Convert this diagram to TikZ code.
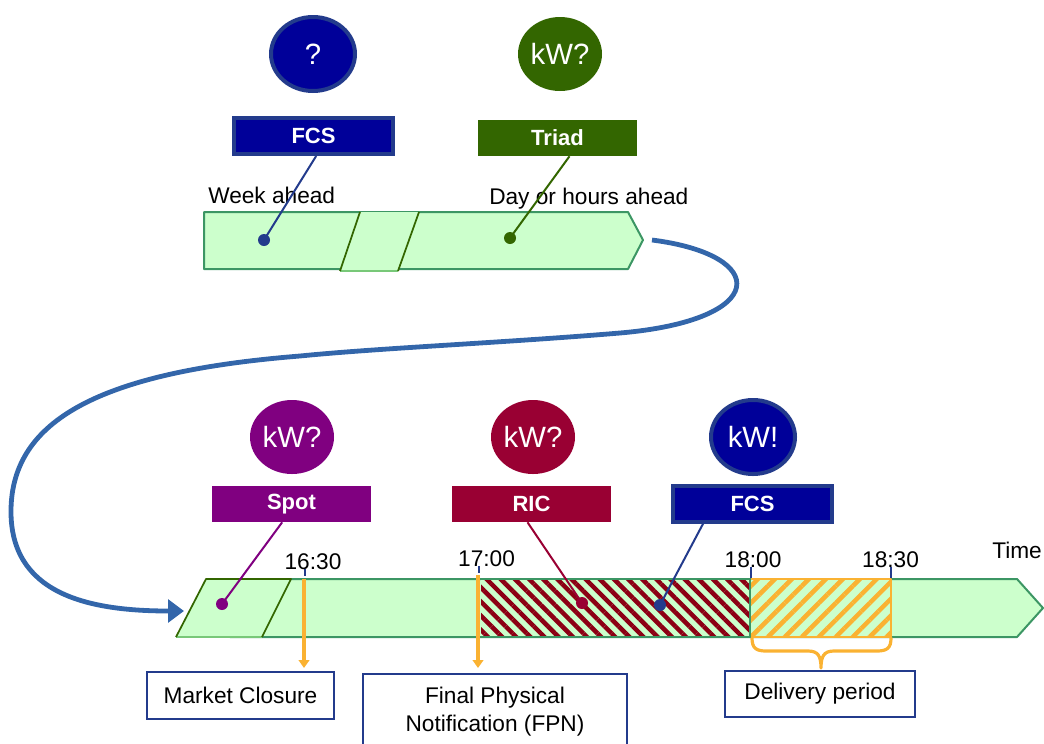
\documentclass[tikz,border=0pt]{standalone}
\usepackage{fontspec}
\setmainfont{Liberation Sans}
\usetikzlibrary{arrows.meta,patterns.meta,shapes.geometric}
\definecolor{bandfill}{RGB}{204,255,204}
\definecolor{bandline}{RGB}{60,150,100}
\definecolor{lgreen}{RGB}{120,200,120}
\definecolor{dgreen}{RGB}{51,102,0}
\definecolor{navy}{RGB}{0,0,153}
\definecolor{navyb}{RGB}{35,59,140}
\definecolor{purp}{RGB}{128,0,128}
\definecolor{crim}{RGB}{153,0,51}
\definecolor{hatchred}{RGB}{140,0,20}
\definecolor{orng}{RGB}{250,178,50}
\definecolor{conn}{RGB}{51,102,170}
\begin{document}
\begin{tikzpicture}[x=0.75pt,y=-0.75pt,
  bubble/.style={ellipse, minimum width=63pt, minimum height=55.5pt, inner sep=0pt, text=white, font=\fontsize{22}{24}\selectfont},
  tag/.style={rectangle, minimum width=119.25pt, minimum height=27pt, inner sep=0pt, text=white, font=\bfseries\fontsize{16.5}{18}\selectfont},
  note/.style={rectangle, draw=navyb, line width=1.5pt, fill=white, inner sep=0pt, font=\fontsize{17}{21}\selectfont, align=center},
  lbl/.style={inner sep=0pt, font=\fontsize{17}{20}\selectfont},
  dot/.style={circle, inner sep=0pt, minimum size=9pt},
  leader/.style={line width=1.5pt},
  band/.style={draw=bandline, fill=bandfill, line width=1.5pt, line join=round},
  tick/.style={navyb, line width=1.2pt},
  marker/.style={orng, line width=2.6pt, -{Triangle[length=6pt,width=8pt]}}
]
\useasboundingbox (0,0) rectangle (1044,743);

% ---------- top band ----------
\draw[band] (204,212) -- (628,212) -- (643,240) -- (628,269) -- (204,269) -- cycle;
\fill[bandfill] (340,271) -- (360,212) -- (419,212) -- (398,271) -- cycle;
\draw[lgreen, line width=1pt] (340,271) -- (398,271);
\draw[dgreen, line width=1.3pt] (340,271) -- (360,212) (419,212) -- (398,271);
\coordinate (topTip) at (652,240);

% top bubbles and tags
\node[bubble, fill=navy, draw=navyb, line width=3pt] (q1) at (313,54) {?};
\node[bubble, fill=dgreen] (kw1) at (560,54) {kW?};
\node[tag, fill=navy, draw=navyb, line width=3pt] (fcsA) at (313.5,136) {FCS};
\node[tag, fill=dgreen] (triad) at (557.5,138) {Triad};

\node[lbl, anchor=west] (week) at (208,195) {Week ahead};
\node[lbl, anchor=west] (day) at (489,199) {Day or hours ahead};

\node[dot, fill=navyb] (dA) at (264,240) {};
\node[dot, fill=dgreen] (dT) at (510,238) {};
\draw[leader, navyb] ([xshift=2pt]fcsA.south) -- (dA.center);
\draw[leader, dgreen] ([xshift=9pt]triad.south) -- (dT.center);

% ---------- bottom band ----------
\draw[band] (230,579) -- (1017,579) -- (1043,608) -- (1017,637) -- (230,637) -- cycle;
% red hatch
\fill[bandfill] (481,579) rectangle (750,637);
\fill[pattern={Lines[angle=-45,distance=7.5pt,line width=3.4pt]}, pattern color=hatchred] (481,579) rectangle (750,637);
\draw[bandline, line width=1.5pt] (481,579) -- (750,579) (481,637) -- (750,637);
% orange hatch
\fill[bandfill] (751,579) rectangle (891,637);
\fill[pattern={Lines[angle=45,distance=9pt,line width=3.4pt]}, pattern color=orng] (751,579) rectangle (891,637);
\draw[orng, line width=2.2pt, line join=round] (751,579) -- (891,579) -- (891,637) -- (751,637);
\draw[bandline, line width=1.2pt] (750,579) -- (750,637);

% left parallelogram
\fill[bandfill] (176,637) -- (206,579) -- (291,579) -- (262,637) -- cycle;
\draw[lgreen, line width=1pt] (176,637) -- (262,637);
\draw[dgreen, line width=1.3pt, line join=round] (176,637) -- (206,579) -- (291,579) -- (262,637);
\coordinate (botIn) at (184,611);

% time markers
\draw[marker] (304,579) -- (304,668);
\draw[marker] (478,575) -- (478,668);
\draw[tick] (305,569) -- (305,576);
\draw[tick] (479,566) -- (479,573);
\draw[tick] (751,567) -- (751,578);
\draw[tick] (891,567) -- (891,578);

\node[lbl] (t1630) at (313,562) {16:30};
\node[lbl] (t1700) at (486.5,559) {17:00};
\node[lbl] (t1800) at (753,560) {18:00};
\node[lbl] (t1830) at (890.5,560) {18:30};
\node[lbl] (time) at (1017,550) {Time};

% bottom bubbles and tags
\node[bubble, fill=purp] (kw2) at (292,437) {kW?};
\node[bubble, fill=crim] (kw3) at (533,437) {kW?};
\node[bubble, fill=navy, draw=navyb, line width=3pt] (kw4) at (753,437) {kW!};
\node[tag, fill=purp] (spot) at (291.5,504) {Spot};
\node[tag, fill=crim] (ric) at (531.5,504) {RIC};
\node[tag, fill=navy, draw=navyb, line width=3pt] (fcsB) at (752.5,503.5) {FCS};

\node[dot, fill=purp] (dS) at (222,604) {};
\node[dot, fill=crim] (dR) at (582,603) {};
\node[dot, fill=navyb] (dF) at (660,605) {};
\draw[leader, purp] ([xshift=-7pt]spot.south) -- (dS.center);
\draw[leader, crim] ([xshift=-3pt]ric.south) -- (dR.center);
\draw[leader, navyb] ([xshift=-37pt]fcsB.south) -- (dF.center);

% brace
\draw[orng, line width=2.4pt, line cap=round, line join=round]
  (752,638) .. controls (752,648) and (756,651) .. (766,651) -- (808,651)
  .. controls (818,651) and (821,656) .. (821,668)
  .. controls (821,656) and (824,651) .. (834,651) -- (877,651)
  .. controls (887,651) and (891,648) .. (891,638);

% bottom notes
\node[note, minimum width=140.25pt, minimum height=35.25pt] (mc) at (240.5,695.5) {Market Closure};
\node[note, minimum width=198pt, minimum height=57pt] (fpn) at (495,712) {Final Physical\\Notification (FPN)};
\node[note, minimum width=142.5pt, minimum height=34.5pt] (dp) at (820,694) {Delivery period};

% connector
\draw[conn, line width=3.6pt, -{Triangle[length=12pt,width=17pt]}]
  (topTip) .. controls (770,255) and (770,320) .. (620,333)
  .. controls (500,343) and (380,348) .. (300,356)
  .. controls (100,372) and (12,420) .. (11,510)
  .. controls (10,595) and (90,611) .. (botIn);
\end{tikzpicture}
\end{document}
